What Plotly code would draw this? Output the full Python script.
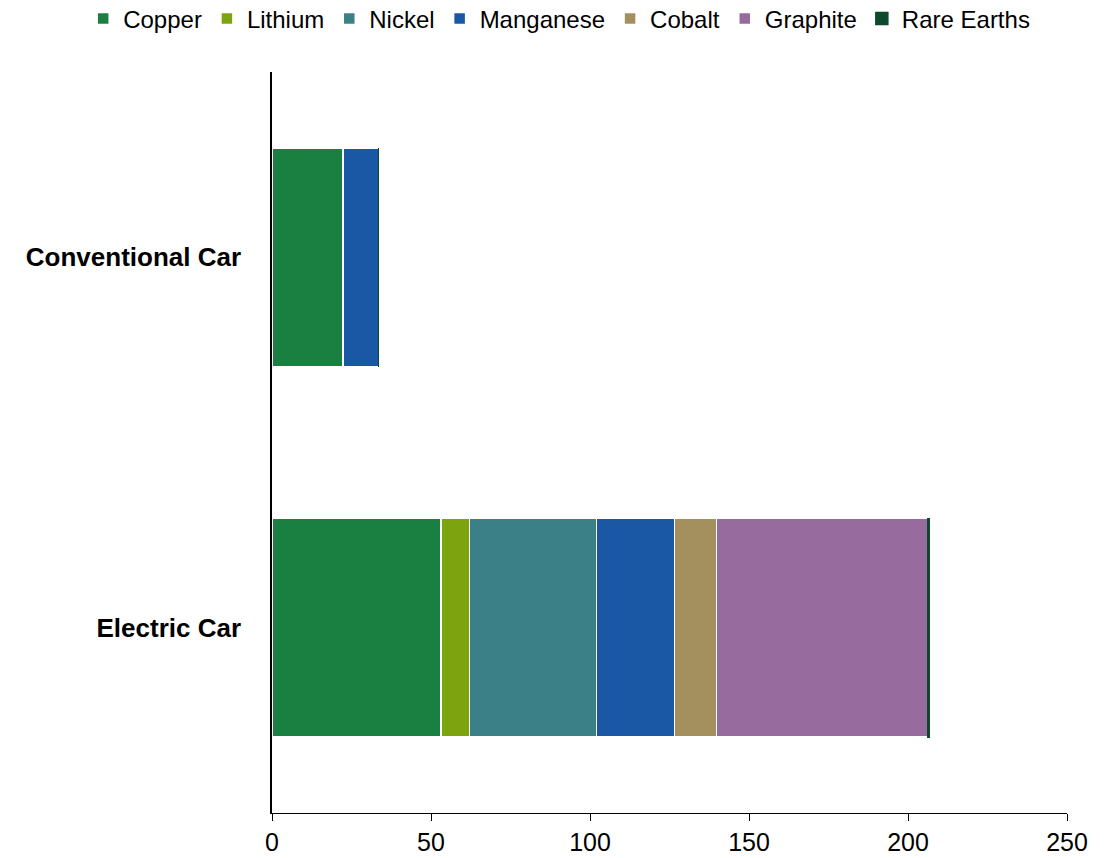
import plotly.graph_objects as go

# Minerals used per vehicle (kg)
vehicles = ["Conventional Car", "Electric Car"]
minerals = ["Copper", "Lithium", "Nickel", "Manganese", "Cobalt", "Graphite", "Rare Earths"]
copper = [22.3, 53.2]
lithium = [0, 8.9]
nickel = [0, 39.9]
manganese = [11.2, 24.5]
cobalt = [0, 13.3]
graphite = [0, 66.3]
rare_earths = [0, 0.5]
x_ticks = [0, 50, 100, 150, 200, 250]

series = [copper, lithium, nickel, manganese, cobalt, graphite, rare_earths]
colors = ["#1a8042", "#7da40e", "#3c8087", "#1a58a6", "#a48f5f", "#976b9e", "#0d4a2a"]

fig = go.Figure()
for name, vals, col in zip(minerals, series, colors):
    fig.add_trace(go.Bar(
        y=vehicles, x=vals, name=name, orientation="h",
        marker=dict(color=col, line=dict(color="white" if name != "Rare Earths" else col, width=1.5)),
    ))

fig.update_layout(
    barmode="stack",
    bargap=0.41,
    width=1110, height=858,
    margin=dict(l=272, r=43, t=72, b=45, autoexpand=False),
    paper_bgcolor="white", plot_bgcolor="white",
    font=dict(family="Liberation Sans, Arial, sans-serif", size=26, color="black"),
    showlegend=True,
    # legend sits above the plot, starting left of it so one row fits
    legend=dict(orientation="h", x=-0.2375, xanchor="left", y=1.0715, yanchor="middle",
                bgcolor="rgba(0,0,0,0)", font=dict(size=24), itemwidth=30,
                traceorder="normal"),
    xaxis=dict(range=[0, 250], tickvals=x_ticks, showgrid=False, zeroline=False,
               showline=True, linecolor="black", linewidth=1, ticks="outside",
               ticklen=7, tickcolor="black", tickfont=dict(size=25)),
    yaxis=dict(autorange="reversed", showgrid=False, zeroline=False, showline=True,
               linecolor="black", linewidth=1.5, ticks="", ticklabelstandoff=24,
               tickfont=dict(size=26, weight="bold")),
)

fig.write_html("out.html")
